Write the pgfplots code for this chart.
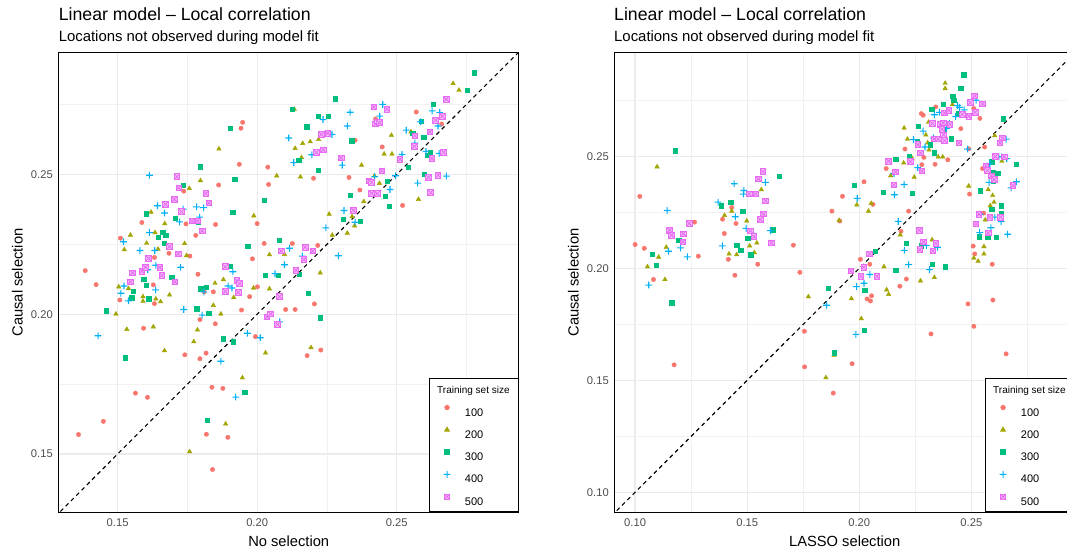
\documentclass[border=0pt]{standalone}
\usepackage{fontspec}
\setmainfont{Liberation Sans}
\usepackage{pgfplots}
\pgfplotsset{compat=1.18}

\definecolor{c100}{HTML}{F8766D}
\definecolor{c200}{HTML}{A3A500}
\definecolor{c300}{HTML}{00BF7D}
\definecolor{c400}{HTML}{00B0F6}
\definecolor{c500}{HTML}{E76BF3}
\definecolor{gridc}{HTML}{EBEBEB}
\definecolor{tickc}{HTML}{4D4D4D}

% open square with a cross (ggplot shape 7)
\pgfdeclareplotmark{sqcross}{%
  \pgfpathrectangle{\pgfqpoint{-\pgfplotmarksize}{-\pgfplotmarksize}}{\pgfqpoint{2\pgfplotmarksize}{2\pgfplotmarksize}}%
  \pgfusepathqfillstroke
  \pgfpathmoveto{\pgfqpoint{-\pgfplotmarksize}{-\pgfplotmarksize}}%
  \pgfpathlineto{\pgfqpoint{\pgfplotmarksize}{\pgfplotmarksize}}%
  \pgfpathmoveto{\pgfqpoint{-\pgfplotmarksize}{\pgfplotmarksize}}%
  \pgfpathlineto{\pgfqpoint{\pgfplotmarksize}{-\pgfplotmarksize}}%
  \pgfusepathqstroke}
% plus sign built from two filled bars
\pgfdeclareplotmark{pplus}{%
  \pgfpathrectangle{\pgfqpoint{-\pgfplotmarksize}{-0.55pt}}{\pgfqpoint{2\pgfplotmarksize}{1.1pt}}%
  \pgfpathrectangle{\pgfqpoint{-0.55pt}{-\pgfplotmarksize}}{\pgfqpoint{1.1pt}{2\pgfplotmarksize}}%
  \pgfusepathqfill}

\pgfplotsset{
  leg/.style={legend image code/.code={\path (-9pt,4pt) (9pt,4pt); \draw[##1] plot coordinates {(0pt,4pt)};}},
  s100/.style={only marks, mark=*, mark size=2.2pt, color=c100, mark options={draw=c100, fill=c100}, leg},
  s200/.style={only marks, mark=triangle*, mark size=2.6pt, color=c200, mark options={draw=c200, fill=c200}, leg},
  s300/.style={only marks, mark=square*, mark size=2.2pt, color=c300, mark options={draw=c300, fill=c300}, leg},
  s400/.style={only marks, mark=pplus, mark size=3.4pt, color=c400, mark options={fill=c400}, leg},
  s500/.style={only marks, mark=sqcross, mark size=2.8pt, color=c500, mark options={draw=c500, fill=c500!45, line width=0.8pt}, leg},
  panel/.style={
    scale only axis, width=460pt, height=459.6pt,
    axis line style={line width=1.1pt},
    major tick length=0pt, minor tick length=0pt,
    grid=both,
    major grid style={gridc, line width=1.3pt},
    minor grid style={gridc!70!white, line width=0.7pt},
    tick label style={font=\fontsize{11.2}{13}\selectfont, text=tickc},
    xticklabel style={yshift=-2.5pt},
    yticklabel style={xshift=-2.4pt},
    label style={font=\fontsize{14.7}{17}\selectfont},
    xlabel style={at={(axis description cs:0.5,-0.062)}, anchor=center},
    ylabel style={at={(axis description cs:-0.09,0.5)}, anchor=center, rotate=0},
    legend cell align=left,
    legend style={at={(1,0)}, anchor=south east, draw=black, line width=0.9pt, fill=white,
      inner xsep=8.6pt, inner ysep=0pt, row sep=0pt, column sep=8.4pt,
      font=\fontsize{11}{13}\selectfont,
      nodes={inner sep=0pt, text height=15.7pt, text depth=6.6pt},
      row 6/.style={nodes={text depth=13.3pt}}},
  },
}

\begin{document}
\begin{tikzpicture}

\node[anchor=base west, inner sep=0pt, font=\fontsize{17.7}{20}\selectfont] at (58.6pt,536pt) {Linear model – Local correlation};
\node[anchor=base west, inner sep=0pt, font=\fontsize{14.9}{17}\selectfont] at (58.6pt,515.3pt) {Locations not observed during model fit};
\node[anchor=base west, inner sep=0pt, font=\fontsize{17.7}{20}\selectfont] at (614pt,536pt) {Linear model – Local correlation};
\node[anchor=base west, inner sep=0pt, font=\fontsize{14.9}{17}\selectfont] at (614pt,515.3pt) {Locations not observed during model fit};

% ---------------- left panel ----------------
\begin{axis}[panel, at={(58.7pt,44.7pt)}, anchor=south west,
  xmin=0.1289, xmax=0.2937, ymin=0.1292, ymax=0.2935,
  xtick={0.15,0.20,0.25}, xticklabels={0.15,0.20,0.25},
  ytick={0.15,0.20,0.25}, yticklabels={0.15,0.20,0.25},
  minor xtick={0.175,0.225,0.275}, minor ytick={0.175,0.225,0.275},
  xlabel={No selection}, ylabel={Causal selection}]

\addlegendimage{empty legend}
\addlegendentry{\hspace*{-27.7pt}\fontsize{10}{12}\selectfont Training set size}

\addplot[s100] coordinates {
(0.136,0.157)(0.1449,0.1617)(0.1384,0.2156)(0.1423,0.2106)(0.151,0.2272)(0.1508,0.2051)
(0.1587,0.2328)(0.1593,0.1950)(0.1564,0.1718)(0.1607,0.1703)(0.1632,0.2203)(0.1628,0.2105)
(0.1632,0.2038)(0.1684,0.2218)(0.1737,0.2440)(0.1745,0.2323)(0.1759,0.2208)(0.1741,0.1855)
(0.1780,0.2282)(0.1788,0.2143)(0.1795,0.1981)(0.1795,0.1841)(0.1817,0.1861)(0.1810,0.2080)
(0.1818,0.1571)(0.1838,0.1739)(0.1843,0.2080)(0.1850,0.1966)(0.1851,0.2321)(0.1840,0.1445)
(0.1877,0.1735)(0.1862,0.2462)(0.1895,0.1560)(0.1936,0.2536)(0.1942,0.2665)(0.1948,0.2686)
(0.1944,0.2015)(0.1973,0.2063)(0.1983,0.2198)(0.1994,0.1920)(0.2001,0.2098)(0.2000,0.2324)
(0.2025,0.2253)(0.2038,0.2526)(0.2041,0.2464)(0.2102,0.2017)(0.2126,0.2253)(0.2136,0.2017)
(0.2179,0.1852)(0.2205,0.2037)(0.2217,0.2246)(0.2202,0.2486)(0.2228,0.1872)(0.2329,0.2489)
(0.2351,0.2622)(0.2368,0.2444)(0.2424,0.2698)(0.2448,0.2598)(0.2521,0.2389)(0.2570,0.2723)
(0.2617,0.2651)(0.2661,0.2680)
};
\addlegendentry{100}

\addplot[s200] coordinates {
(0.1494,0.2001)(0.1504,0.2098)(0.1524,0.2231)(0.1533,0.1946)(0.1539,0.2092)(0.1546,0.2283)
(0.1591,0.2063)(0.1591,0.2047)(0.1604,0.2254)(0.1620,0.2365)(0.1628,0.1955)(0.1634,0.2292)
(0.1637,0.2055)(0.1645,0.2233)(0.1654,0.2045)(0.1668,0.1870)(0.1669,0.2324)(0.1686,0.2069)
(0.1740,0.2253)(0.1747,0.2210)(0.1757,0.2450)(0.1758,0.1509)(0.1773,0.1902)(0.1786,0.1944)
(0.1797,0.2478)(0.1843,0.2032)(0.1849,0.2111)(0.1863,0.2591)(0.1870,0.2001)(0.1879,0.2124)
(0.1887,0.1608)(0.1916,0.2060)(0.1947,0.1773)(0.1987,0.2094)(0.1988,0.2352)(0.2030,0.1862)
(0.2044,0.2213)(0.2044,0.2091)(0.2070,0.2495)(0.2098,0.2214)(0.2133,0.2733)(0.2136,0.2593)
(0.2155,0.2491)(0.2159,0.2560)(0.2163,0.2611)(0.2190,0.2617)(0.2193,0.1881)(0.2220,0.2625)
(0.2226,0.2148)(0.2258,0.2358)(0.2269,0.2283)(0.2323,0.2290)(0.2340,0.2349)(0.2349,0.2316)
(0.2374,0.2533)(0.2382,0.2403)(0.2420,0.2495)(0.2438,0.2468)(0.2455,0.2573)(0.2481,0.2640)
(0.2483,0.2573)(0.2551,0.2652)(0.2578,0.2411)(0.2702,0.2825)(0.2723,0.2801)
};
\addlegendentry{200}

\addplot[s300] coordinates {
(0.1460,0.2013)(0.1528,0.1844)(0.1556,0.2082)(0.1550,0.2059)(0.1593,0.2125)(0.1603,0.2360)
(0.1603,0.2103)(0.1611,0.2056)(0.1645,0.2276)(0.1661,0.2293)(0.1668,0.2253)(0.1672,0.2283)
(0.1694,0.2133)(0.1707,0.2343)(0.1736,0.2462)(0.1783,0.2020)(0.1789,0.2329)(0.1797,0.2527)
(0.1798,0.2092)(0.1817,0.2097)(0.1822,0.1621)(0.1826,0.2003)(0.1879,0.1912)(0.1904,0.2666)
(0.1904,0.2171)(0.1912,0.2365)(0.1914,0.1902)(0.1919,0.2483)(0.1932,0.2111)(0.1955,0.1722)
(0.1966,0.2244)(0.2025,0.2408)(0.2029,0.2139)(0.2075,0.2140)(0.2080,0.2264)(0.2126,0.2732)
(0.2149,0.2551)(0.2150,0.2143)(0.2177,0.2670)(0.2183,0.2075)(0.2219,0.2707)(0.2219,0.2515)
(0.2226,0.1987)(0.2254,0.2707)(0.2280,0.2770)(0.2309,0.2339)(0.2334,0.2426)(0.2338,0.2620)
(0.2369,0.2332)(0.2459,0.2423)(0.2466,0.2476)(0.2473,0.2386)(0.2541,0.2526)(0.2557,0.2647)
(0.2587,0.2691)(0.2597,0.2633)(0.2599,0.2500)(0.2609,0.2568)(0.2620,0.2577)(0.2630,0.2751)
(0.2753,0.2802)(0.2778,0.2864)
};
\addlegendentry{300}

\addplot[s400] coordinates {
(0.1430,0.1923)(0.1512,0.2075)(0.1521,0.2259)(0.1523,0.2101)(0.1539,0.2048)(0.1580,0.2228)
(0.1614,0.2497)(0.1614,0.2292)(0.1608,0.2159)(0.1633,0.2228)(0.1636,0.2087)(0.1637,0.2175)
(0.1643,0.2388)(0.1668,0.2362)(0.1722,0.2330)(0.1726,0.2168)(0.1735,0.2376)(0.1737,0.2017)
(0.1783,0.2384)(0.1794,0.2347)(0.1808,0.2381)(0.1803,0.1997)(0.1809,0.2080)(0.1870,0.1832)
(0.1896,0.2101)(0.1913,0.2152)(0.1910,0.2094)(0.1923,0.1704)(0.1965,0.1932)(0.2011,0.1916)
(0.2064,0.2145)(0.2081,0.1973)(0.2098,0.2177)(0.2113,0.2630)(0.2116,0.2236)(0.2131,0.2542)
(0.2162,0.2208)(0.2196,0.2570)(0.2236,0.2696)(0.2246,0.2309)(0.2268,0.2643)(0.2291,0.2209)
(0.2305,0.2533)(0.2311,0.2371)(0.2323,0.2673)(0.2333,0.2722)(0.2351,0.2329)(0.2421,0.2492)
(0.2450,0.2750)(0.2439,0.2708)(0.2476,0.2446)(0.2496,0.2495)(0.2519,0.2571)(0.2534,0.2658)
(0.2565,0.2612)(0.2575,0.2469)(0.2586,0.2688)(0.2605,0.2582)(0.2627,0.2727)(0.2648,0.2673)
(0.2654,0.2721)(0.2652,0.2575)(0.2678,0.2494)
};
\addlegendentry{400}

\addplot[s500] coordinates {
(0.1554,0.2148)(0.1546,0.2116)(0.1587,0.2154)(0.1600,0.2168)(0.1611,0.2200)(0.1651,0.2167)
(0.1659,0.2139)(0.1672,0.2393)(0.1686,0.2242)(0.1703,0.2411)(0.1705,0.2116)(0.1713,0.2492)
(0.1717,0.2216)(0.1719,0.2452)(0.1729,0.2367)(0.1766,0.2333)(0.1787,0.2333)(0.1803,0.2298)
(0.1816,0.2432)(0.1827,0.2398)(0.1886,0.2170)(0.1886,0.2082)(0.1927,0.2120)(0.1932,0.2078)
(0.1937,0.2110)(0.2035,0.1990)(0.2048,0.2001)(0.2073,0.1964)(0.2080,0.2063)(0.2086,0.2226)
(0.2139,0.2157)(0.2167,0.2196)(0.2172,0.2240)(0.2199,0.2226)(0.2212,0.2578)(0.2230,0.2643)
(0.2237,0.2588)(0.2253,0.2647)(0.2301,0.2559)(0.2345,0.2372)(0.2400,0.2477)(0.2410,0.2472)
(0.2410,0.2432)(0.2418,0.2741)(0.2424,0.2681)(0.2431,0.2688)(0.2438,0.2685)(0.2465,0.2733)
(0.2447,0.2513)(0.2430,0.2431)(0.2512,0.2554)(0.2563,0.2600)(0.2565,0.2638)(0.2614,0.2489)
(0.2621,0.2435)(0.2626,0.2557)(0.2619,0.2652)(0.2639,0.2694)(0.2648,0.2497)(0.2663,0.2708)
(0.2668,0.2579)(0.2677,0.2769)
};
\addlegendentry{500}

\addplot[black, dash pattern=on 4pt off 3.5pt, line width=1.1pt, forget plot] coordinates {(0.12,0.12)(0.30,0.30)};
\end{axis}

% ---------------- right panel ----------------
\begin{axis}[panel, at={(614.7pt,44.7pt)}, anchor=south west,
  xmin=0.0909, xmax=0.2961, ymin=0.0911, ymax=0.2962,
  xtick={0.10,0.15,0.20,0.25}, xticklabels={0.10,0.15,0.20,0.25},
  ytick={0.10,0.15,0.20,0.25}, yticklabels={0.10,0.15,0.20,0.25},
  minor xtick={0.125,0.175,0.225,0.275}, minor ytick={0.125,0.175,0.225,0.275},
  xlabel={LASSO selection}, ylabel={Causal selection}]

\addlegendimage{empty legend}
\addlegendentry{\hspace*{-27.7pt}\fontsize{10}{12}\selectfont Training set size}

\addplot[s100] coordinates {
(0.100,0.2106)(0.1021,0.2321)(0.1041,0.2089)(0.1082,0.1950)(0.1174,0.1569)(0.1265,0.2206)
(0.1282,0.2054)(0.1390,0.2219)(0.1398,0.2155)(0.1416,0.2040)(0.1431,0.2271)(0.1445,0.1969)
(0.1450,0.2200)(0.1547,0.2018)(0.1706,0.2103)(0.1735,0.1982)(0.1755,0.1719)(0.1756,0.1560)
(0.1878,0.2255)(0.1884,0.1443)(0.1913,0.2211)(0.1925,0.2321)(0.1968,0.1574)(0.2005,0.2040)
(0.2021,0.2386)(0.2035,0.1863)(0.2047,0.2018)(0.2055,0.1877)(0.2050,0.1854)(0.2061,0.2285)
(0.2120,0.2445)(0.2181,0.1920)(0.2186,0.2165)(0.2210,0.1952)(0.2204,0.2532)(0.2220,0.2255)
(0.2277,0.2690)(0.2285,0.2683)(0.2279,0.2462)(0.2288,0.2495)(0.2320,0.1707)(0.2338,0.2464)
(0.2341,0.2720)(0.2395,0.2484)(0.2453,0.2623)(0.2488,0.2533)(0.2492,0.2331)(0.2485,0.1841)
(0.2508,0.2099)(0.2511,0.1741)(0.2515,0.2064)(0.2511,0.2713)(0.2538,0.2669)(0.2559,0.2541)
(0.2555,0.2246)(0.2550,0.2445)(0.2593,0.2018)(0.2596,0.1858)(0.2655,0.1618)
};
\addlegendentry{100}

\addplot[s200] coordinates {
(0.1055,0.2007)(0.1098,0.2453)(0.1105,0.2050)(0.1133,0.1950)(0.1139,0.2094)(0.1399,0.2236)
(0.1419,0.2064)(0.1431,0.2255)(0.1453,0.2061)(0.1498,0.2211)(0.1511,0.2100)(0.1532,0.2070)
(0.1543,0.2113)(0.1563,0.2351)(0.1773,0.1873)(0.1851,0.1512)(0.1887,0.1612)(0.1910,0.2214)
(0.1965,0.1865)(0.1989,0.2283)(0.2009,0.1775)(0.2041,0.2255)(0.2053,0.2290)(0.2110,0.2007)
(0.2122,0.1904)(0.2131,0.1884)(0.2140,0.2413)(0.2183,0.2149)(0.2198,0.2470)(0.2200,0.2626)
(0.2215,0.2576)(0.2235,0.2492)(0.2245,0.2407)(0.2273,0.1944)(0.2297,0.2595)(0.2305,0.2560)
(0.2311,0.2528)(0.2309,0.2652)(0.2325,0.2127)(0.2335,0.1959)(0.2352,0.2497)(0.2372,0.2497)
(0.2383,0.2826)(0.2383,0.2802)(0.2416,0.2731)(0.2488,0.2367)(0.2511,0.2046)(0.2530,0.2032)
(0.2556,0.2064)(0.2556,0.2097)(0.2562,0.2216)(0.2575,0.2351)(0.2584,0.2279)(0.2595,0.2325)
(0.2601,0.2295)(0.2604,0.2592)(0.2636,0.2478)
};
\addlegendentry{200}

\addplot[s300] coordinates {
(0.1075,0.2064)(0.1093,0.2015)(0.1163,0.1846)(0.1178,0.2525)(0.1194,0.2125)(0.1383,0.2279)
(0.1427,0.2295)(0.1453,0.2103)(0.1471,0.2081)(0.1480,0.2255)(0.1502,0.2135)(0.1515,0.2061)
(0.1617,0.2173)(0.1643,0.2410)(0.1861,0.1912)(0.1889,0.1623)(0.1977,0.2370)(0.2023,0.1724)
(0.2024,0.1903)(0.2070,0.2076)(0.2107,0.2339)(0.2162,0.2486)(0.2162,0.1991)(0.2210,0.2111)
(0.2223,0.2500)(0.2236,0.2334)(0.2259,0.2568)(0.2262,0.2633)(0.2276,0.2100)(0.2317,0.2552)
(0.2323,0.2709)(0.2326,0.2018)(0.2334,0.2516)(0.2340,0.2576)(0.2373,0.2731)(0.2376,0.2620)
(0.2383,0.2007)(0.2409,0.2579)(0.2416,0.2769)(0.2422,0.2751)(0.2444,0.2690)(0.2453,0.2803)
(0.2466,0.2864)(0.2535,0.2141)(0.2540,0.2347)(0.2573,0.2140)(0.2590,0.2264)(0.2591,0.2476)
(0.2598,0.2427)(0.2598,0.2388)(0.2610,0.2138)(0.2619,0.2423)(0.2633,0.2280)(0.2633,0.2244)
(0.2642,0.2668)(0.2700,0.2465)
};
\addlegendentry{300}

\addplot[s400] coordinates {
(0.1061,0.1925)(0.1143,0.2258)(0.1149,0.2076)(0.1203,0.2091)(0.1233,0.2051)(0.1370,0.2295)
(0.1389,0.2100)(0.1442,0.2377)(0.1447,0.2230)(0.1485,0.2347)(0.1483,0.2331)(0.1495,0.2178)
(0.1520,0.2157)(0.1581,0.2383)(0.1604,0.2168)(0.1854,0.1835)(0.1985,0.1705)(0.1988,0.1918)
(0.1991,0.2312)(0.2021,0.1933)(0.2047,0.1972)(0.2155,0.2423)(0.2157,0.2328)(0.2174,0.2209)
(0.2200,0.2374)(0.2201,0.2080)(0.2220,0.2016)(0.2242,0.2574)(0.2261,0.2449)(0.2285,0.2612)
(0.2293,0.2541)(0.2299,0.2102)(0.2313,0.1994)(0.2331,0.2581)(0.2335,0.2685)(0.2349,0.2094)
(0.2357,0.2696)(0.2367,0.2644)(0.2389,0.2625)(0.2402,0.2647)(0.2430,0.2677)(0.2438,0.2726)
(0.2447,0.2718)(0.2468,0.2707)(0.2483,0.2532)(0.2521,0.2750)(0.2537,0.2159)(0.2538,0.2241)
(0.2582,0.2468)(0.2579,0.2383)(0.2587,0.2181)(0.2605,0.2228)(0.2623,0.2497)(0.2633,0.2208)
(0.2636,0.2497)(0.2655,0.2576)(0.2658,0.2489)(0.2662,0.2152)(0.2677,0.2359)(0.2701,0.2386)
};
\addlegendentry{400}

\addplot[s500] coordinates {
(0.1154,0.2170)(0.1163,0.2148)(0.1213,0.2118)(0.1215,0.2154)(0.1241,0.2200)(0.1509,0.2332)
(0.1514,0.2167)(0.1530,0.2141)(0.1538,0.2332)(0.1550,0.2399)(0.1559,0.2217)(0.1570,0.2432)
(0.1572,0.2242)(0.1582,0.2301)(0.1608,0.2114)(0.1962,0.1988)(0.2008,0.1964)(0.2020,0.2004)
(0.2046,0.2064)(0.2079,0.1964)(0.2131,0.2478)(0.2154,0.2372)(0.2162,0.2430)(0.2227,0.2476)
(0.2261,0.2552)(0.2268,0.2170)(0.2273,0.2514)(0.2279,0.2434)(0.2270,0.2083)(0.2287,0.2118)
(0.2328,0.2078)(0.2326,0.2647)(0.2334,0.2577)(0.2341,0.2111)(0.2352,0.2577)(0.2361,0.2641)
(0.2369,0.2620)(0.2375,0.2649)(0.2380,0.2693)(0.2381,0.2570)(0.2376,0.2596)(0.2404,0.2642)
(0.2399,0.2705)(0.2444,0.2560)(0.2460,0.2687)(0.2489,0.2679)(0.2495,0.2739)(0.2514,0.2769)
(0.2517,0.2696)(0.2550,0.2734)(0.2534,0.2241)(0.2521,0.2198)(0.2565,0.2457)(0.2572,0.2437)
(0.2582,0.2228)(0.2575,0.2157)(0.2589,0.2412)(0.2602,0.2396)(0.2607,0.2498)(0.2628,0.2560)
(0.2630,0.2228)(0.2639,0.2581)(0.2646,0.2497)(0.2686,0.2369)
};
\addlegendentry{500}

\addplot[black, dash pattern=on 4pt off 3.5pt, line width=1.1pt, forget plot] coordinates {(0.08,0.08)(0.31,0.31)};
\end{axis}

\pgfresetboundingbox
\useasboundingbox (0pt,0pt) rectangle (1067pt,557pt);
\end{tikzpicture}
\end{document}
